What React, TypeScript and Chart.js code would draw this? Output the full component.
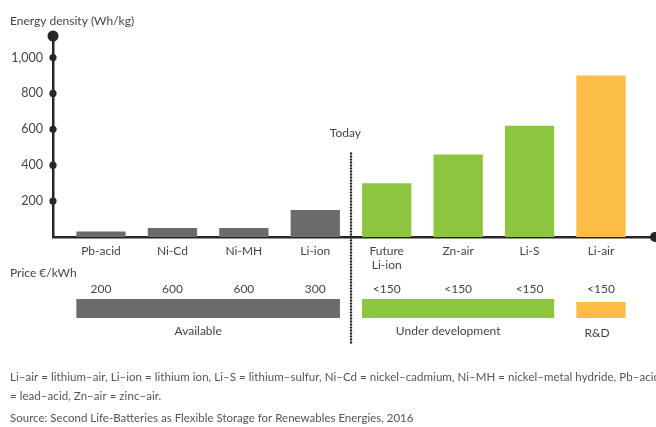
import React, { useEffect, useRef } from "react";
import { Chart, registerables } from "chart.js";

Chart.register(...registerables);

// ---- data ----
const categoryLabels: (string | string[])[] = [
  "Pb-acid",
  "Ni-Cd",
  "Ni-MH",
  "Li-ion",
  ["Future", "Li-ion"],
  "Zn-air",
  "Li-S",
  "Li-air",
];
const energyDensity = [30, 50, 50, 150, 300, 460, 620, 900];
const prices = ["200", "600", "600", "300", "<150", "<150", "<150", "<150"];
const stageOf = [0, 0, 0, 0, 1, 1, 1, 2];
const stageNames = ["Available", "Under development", "R&D"];
const stageColors = ["#6b6b6b", "#8cc63f", "#fbbd46"];
const yTicks = [200, 400, 600, 800, 1000];
const yTitle = "Energy density (Wh/kg)";
const priceTitle = "Price \u20ac/kWh";
const todayLabel = "Today";
const todayTopValue = 465;
const footnoteLines = [
  "Li\u2013air = lithium\u2013air, Li\u2013ion = lithium ion, Li\u2013S = lithium\u2013sulfur, Ni\u2013Cd = nickel\u2013cadmium, Ni\u2013MH = nickel\u2013metal hydride, Pb\u2013acid",
  "= lead\u2013acid, Zn\u2013air = zinc\u2013air.",
];
const sourceLine =
  "Source: Second Life-Batteries as Flexible Storage for Renewables Energies, 2016";

const FONT = "Lato, 'Open Sans', sans-serif";
const TEXT = "#454545";
const AXIS = "#262626";

const decorPlugin = {
  id: "decor",
  afterDraw(chart: any) {
    const { ctx, chartArea, scales } = chart;
    const x = scales.x;
    const y = scales.y;
    const meta = chart.getDatasetMeta(0);
    const circle = (cx: number, cy: number, r: number) => {
      ctx.beginPath();
      ctx.arc(cx, cy, r, 0, Math.PI * 2);
      ctx.fill();
    };
    ctx.save();

    // axis dots
    ctx.fillStyle = AXIS;
    yTicks.forEach((v) => circle(chartArea.left, y.getPixelForValue(v), 3.6));
    circle(chartArea.left, chartArea.top, 5.5);
    circle(chartArea.right, chartArea.bottom, 5);

    // y title
    ctx.fillStyle = TEXT;
    ctx.font = `12px ${FONT}`;
    ctx.textAlign = "left";
    ctx.textBaseline = "middle";
    ctx.fillText(yTitle, 10, 21);

    // Today dotted separator
    const xd = x.getPixelForValue(3.5);
    ctx.fillStyle = AXIS;
    for (let yy = y.getPixelForValue(todayTopValue); yy <= 344; yy += 3) {
      circle(xd, yy, 1.2);
    }
    ctx.fillStyle = TEXT;
    ctx.textAlign = "right";
    ctx.fillText(todayLabel, xd + 10, 133);

    // price title
    ctx.textAlign = "left";
    ctx.fillText(priceTitle, 10, 273);

    // price values
    ctx.textAlign = "center";
    prices.forEach((p, i) => {
      const el = meta.data[i];
      ctx.fillText(p, el.x, 289);
    });

    // stage bars + names
    stageNames.forEach((name, s) => {
      const idx = stageOf.map((st, i) => (st === s ? i : -1)).filter((i) => i >= 0);
      const first = meta.data[idx[0]];
      const last = meta.data[idx[idx.length - 1]];
      const l = first.x - first.width / 2;
      const r = last.x + last.width / 2;
      const top = s === 2 ? 302 : 299;
      ctx.fillStyle = stageColors[s];
      ctx.fillRect(l, top, r - l, 318 - top);
      ctx.fillStyle = TEXT;
      ctx.textAlign = "center";
      ctx.fillText(name, (l + r) / 2 - (s === 2 ? 4 : 10), s === 2 ? 333 : 331);
    });

    // footnotes
    ctx.fillStyle = "#555";
    ctx.font = `11.5px ${FONT}`;
    ctx.textAlign = "left";
    try {
      (ctx as any).letterSpacing = "0.05px";
    } catch (e) {}
    ctx.fillText(footnoteLines[0], 10, 377);
    ctx.fillText(footnoteLines[1], 10, 396);
    try {
      (ctx as any).letterSpacing = "0px";
    } catch (e) {}
    ctx.fillText(sourceLine, 10, 418);

    ctx.restore();
  },
};

export default function App() {
  const ref = useRef<HTMLCanvasElement>(null);
  useEffect(() => {
    if (!ref.current) return;
    const chart = new Chart(ref.current, {
      type: "bar",
      data: {
        datasets: [
          {
            data: energyDensity.map((v, i) => ({ x: i, y: v })),
            backgroundColor: stageOf.map((s) => stageColors[s]),
            borderWidth: 0,
            categoryPercentage: 1,
            barPercentage: 0.69,
          },
        ],
      },
      options: {
        responsive: false,
        animation: false,
        devicePixelRatio: 1,
        layout: { padding: { top: 36, right: 1, left: 0, bottom: 0 } },
        plugins: {
          legend: { display: false },
          tooltip: { enabled: false },
        },
        scales: {
          x: {
            type: "linear",
            offset: false,
            min: -0.672,
            max: 7.756,
            z: 1,
            afterFit: (s: any) => {
              s.height = 190;
            },
            afterBuildTicks: (s: any) => {
              s.ticks = categoryLabels.map((_, i) => ({ value: i }));
            },
            ticks: {
              autoSkip: false,
              maxRotation: 0,
              padding: 7,
              color: TEXT,
              font: { family: FONT, size: 12 },
              callback: (v: any) => categoryLabels[v] as any,
            },
            grid: { display: false, drawTicks: false, offset: false },
            border: { display: true, color: AXIS, width: 2.5 },
          },
          y: {
            min: 0,
            max: 1120,
            z: 1,
            afterFit: (s: any) => {
              s.width = 53;
            },
            afterBuildTicks: (s: any) => {
              s.ticks = yTicks.map((v) => ({ value: v }));
            },
            ticks: {
              padding: 10,
              color: TEXT,
              font: { family: FONT, size: 12.5 },
              callback: (v: any) => Number(v).toLocaleString("en-US"),
            },
            grid: { display: false, drawTicks: false },
            border: { display: true, color: AXIS, width: 2.5 },
          },
        },
      },
      plugins: [decorPlugin],
    } as any);
    return () => chart.destroy();
  }, []);

  return (
    <div style={{ position: "fixed", left: 0, top: 0, width: 656, height: 427, background: "#fff" }}>
      <canvas ref={ref} width={656} height={427} style={{ display: "block" }} />
    </div>
  );
}
